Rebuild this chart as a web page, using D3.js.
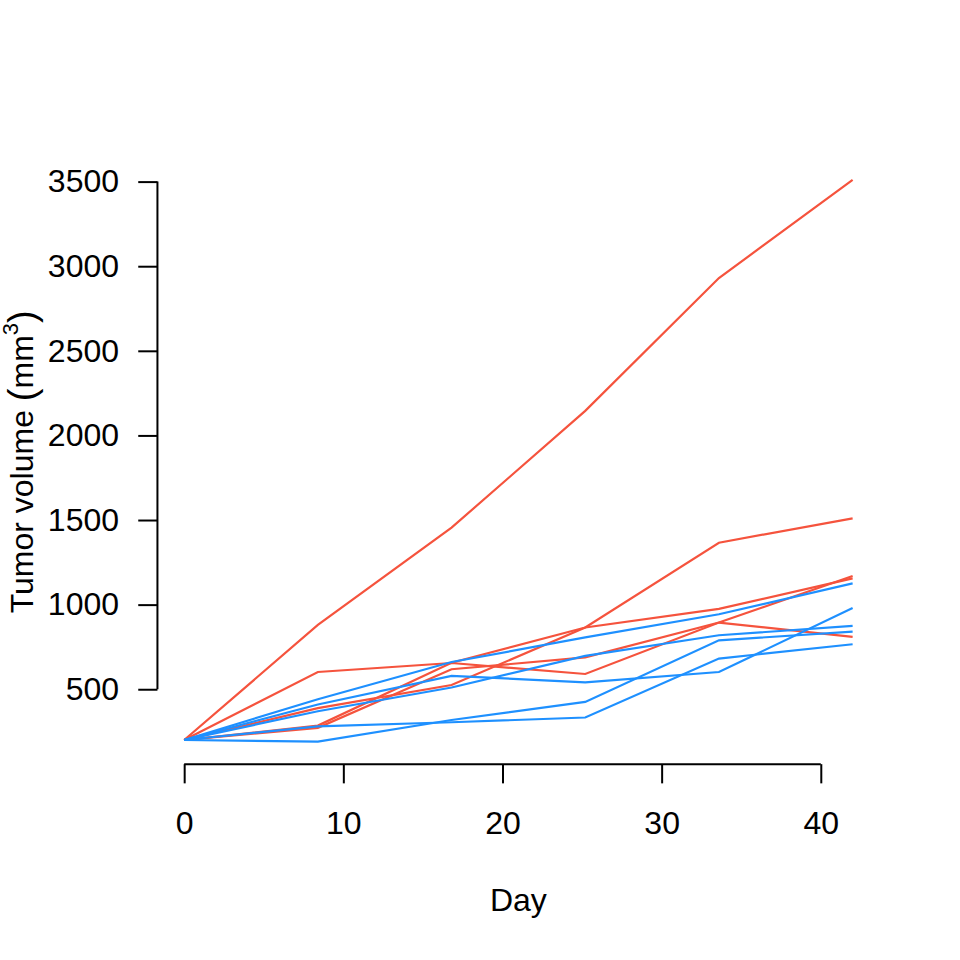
<!DOCTYPE html>
<html>
<head>
<meta charset="utf-8">
<script src="https://cdn.jsdelivr.net/npm/d3@7"></script>
<style>
  body { margin: 0; background: #fff; }
  svg text { font-family: "Liberation Sans", Arial, Helvetica, sans-serif; fill: #000; }
</style>
</head>
<body>
<svg id="chart" width="960" height="960"></svg>
<script>
// measurement days
const days = [0, 8.4, 16.8, 25.2, 33.6, 42];

// tumor volume per animal
const redSeries = [
    [200, 880, 1455, 2145, 2930, 3510],
    [200, 602, 655, 590, 894, 809],
    [200, 388, 525, 865, 1366, 1510],
    [200, 285, 657, 865, 975, 1155],
    [200, 272, 618, 688, 894, 1169]
];
const blueSeries = [
    [200, 441, 661, 806, 943, 1126],
    [200, 410, 579, 541, 602, 980],
    [200, 370, 510, 697, 819, 874],
    [200, 190, 318, 425, 789, 841],
    [200, 280, 305, 333, 681, 766]
];

const xTicks = [0, 10, 20, 30, 40];
const yTicks = [500, 1000, 1500, 2000, 2500, 3000, 3500];

const svg = d3.select("svg#chart");
const W = +svg.attr("width");
const H = +svg.attr("height");

// R style margins, in text lines
const fontSize = 32;
const lineH = fontSize * 1.2;
const margin = {top: 4.1 * lineH, right: 2.1 * lineH, bottom: 5.1 * lineH, left: 4.1 * lineH};

const allValues = redSeries.concat(blueSeries).flat();
const yMin = d3.min(allValues), yMax = d3.max(allValues);
const xMin = d3.min(days), xMax = d3.max(days);
const yPad = (yMax - yMin) * 0.04;
const xPad = (xMax - xMin) * 0.04;

const x = d3.scaleLinear()
    .domain([xMin - xPad, xMax + xPad])
    .range([margin.left, W - margin.right]);
const y = d3.scaleLinear()
    .domain([yMin - yPad, yMax + yPad])
    .range([H - margin.bottom, margin.top]);

const tick = 0.5 * lineH;

// x axis
const xAxis = d3.axisBottom(x).tickValues(xTicks).tickSize(tick).tickPadding(lineH - tick + 9).tickFormat(d3.format("d"));
const gx = svg.append("g")
    .attr("transform", `translate(0,${H - margin.bottom})`)
    .call(xAxis);
gx.select(".domain").remove();
gx.append("line")
    .attr("x1", x(xTicks[0])).attr("x2", x(xTicks[xTicks.length - 1]))
    .attr("stroke", "#000").attr("stroke-width", 2);
gx.selectAll(".tick line").attr("stroke-width", 2);
gx.selectAll(".tick text").attr("font-size", fontSize).attr("font-family", "Liberation Sans, Arial, sans-serif");

// y axis
const yAxis = d3.axisLeft(y).tickValues(yTicks).tickSize(tick).tickPadding(lineH - tick).tickFormat(d3.format("d"));
const gy = svg.append("g")
    .attr("transform", `translate(${margin.left},0)`)
    .call(yAxis);
gy.select(".domain").remove();
gy.append("line")
    .attr("y1", y(yTicks[0])).attr("y2", y(yTicks[yTicks.length - 1]))
    .attr("stroke", "#000").attr("stroke-width", 2);
gy.selectAll(".tick line").attr("stroke-width", 2);
gy.selectAll(".tick text").attr("font-size", fontSize).attr("font-family", "Liberation Sans, Arial, sans-serif");

// axis titles
svg.append("text")
    .attr("x", (margin.left + W - margin.right) / 2)
    .attr("y", 911)
    .attr("text-anchor", "middle")
    .attr("font-size", fontSize)
    .text("Day");

const yLab = svg.append("text")
    .attr("transform", `translate(33,${(margin.top + H - margin.bottom) / 2 + 1}) rotate(-90)`)
    .attr("text-anchor", "middle")
    .attr("font-size", fontSize);
yLab.append("tspan").text("Tumor volume ");
yLab.append("tspan").attr("font-size", 38).attr("dy", 2).text("(");
yLab.append("tspan").attr("dy", -2).text("mm");
yLab.append("tspan").attr("font-size", 22).attr("dy", -15).text("3");
yLab.append("tspan").attr("font-size", 38).attr("dy", 17).text(")");

// lines
const line = d3.line()
    .x((d, i) => x(days[i]))
    .y(d => y(d));

svg.append("g").selectAll("path.red")
    .data(redSeries)
    .join("path")
    .attr("class", "red")
    .attr("d", line)
    .attr("fill", "none")
    .attr("stroke", "#F5533D")
    .attr("stroke-width", 2.2);

svg.append("g").selectAll("path.blue")
    .data(blueSeries)
    .join("path")
    .attr("class", "blue")
    .attr("d", line)
    .attr("fill", "none")
    .attr("stroke", "#1E90FF")
    .attr("stroke-width", 2.2);
</script>
</body>
</html>
